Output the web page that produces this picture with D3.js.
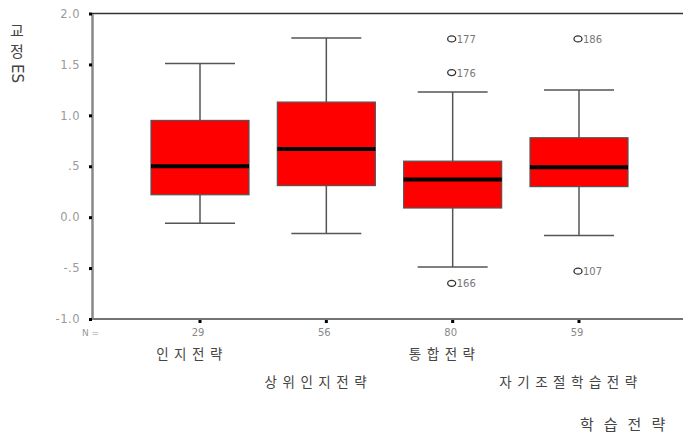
<!DOCTYPE html>
<html>
<head>
<meta charset="utf-8">
<script src="https://cdn.jsdelivr.net/npm/d3@7"></script>
<style>
  body { margin: 0; background: #fff; }
  svg { font-family: "Noto Sans CJK KR", "DejaVu Sans", sans-serif; }
</style>
</head>
<body>
<svg id="box" width="683" height="439"></svg>
<script>
// data
const groups = ["인지전략", "상위인지전략", "통합전략", "자기조절학습전략"];
const counts = [29, 56, 80, 59];
const whiskerLow = [-0.06, -0.16, -0.49, -0.18];
const q1 = [0.22, 0.31, 0.09, 0.30];
const medians = [0.50, 0.67, 0.37, 0.49];
const q3 = [0.95, 1.13, 0.55, 0.78];
const whiskerHigh = [1.51, 1.76, 1.23, 1.25];
const outliers = [
    { group: "통합전략", value: 1.75, label: "177" },
    { group: "통합전략", value: 1.42, label: "176" },
    { group: "통합전략", value: -0.65, label: "166" },
    { group: "자기조절학습전략", value: 1.75, label: "186" },
    { group: "자기조절학습전략", value: -0.53, label: "107" },
];
const yTicks = [2.0, 1.5, 1.0, 0.5, 0.0, -0.5, -1.0];
const yTickLabels = ["2.0", "1.5", "1.0", ".5", "0.0", "-.5", "-1.0"];

let svg = d3.select("svg#box");
const axisLeftX = 92;
const plotRight = 683;
const boxWidth = 98;
const capWidth = 70;

let y = d3.scaleLinear().domain([-1, 2]).range([319, 13.5]);
let x = d3.scalePoint().domain(groups).range([200, 579]);

let boxes = groups.map((g, i) => ({
    group: g, n: counts[i], lo: whiskerLow[i], q1: q1[i],
    med: medians[i], q3: q3[i], hi: whiskerHigh[i],
}));

// frame lines
svg.append("line")
    .attr("x1", axisLeftX).attr("x2", plotRight)
    .attr("y1", y(2)).attr("y2", y(2))
    .attr("stroke", "#333").attr("stroke-width", 1.5);
svg.append("line")
    .attr("x1", axisLeftX).attr("x2", plotRight)
    .attr("y1", y(-1)).attr("y2", y(-1))
    .attr("stroke", "#444").attr("stroke-width", 1.5);

// y axis
let yAxis = d3.axisLeft(y)
    .tickValues(yTicks)
    .tickSize(0)
    .tickPadding(12)
    .tickFormat((d, i) => yTickLabels[i]);
let yg = svg.append("g")
    .attr("transform", `translate(${axisLeftX},0)`)
    .call(yAxis);
yg.select(".domain").attr("stroke", "#888").attr("stroke-width", 2.5);
yg.selectAll("text")
    .attr("fill", "#999")
    .style("font-family", "'DejaVu Sans', sans-serif")
    .style("font-size", "11.5px")
    .style("letter-spacing", "0.5px");
yg.selectAll(".tick")
    .append("rect")
    .attr("x", -3).attr("y", -1.5)
    .attr("width", 3).attr("height", 3)
    .attr("fill", "#000");

// y title, written vertically
let yTitle = svg.append("g").attr("fill", "#444");
yTitle.append("text").attr("x", 17).attr("y", 36)
    .attr("text-anchor", "middle").style("font-size", "15px").text("교");
yTitle.append("text").attr("x", 17).attr("y", 57)
    .attr("text-anchor", "middle").style("font-size", "15px").text("정");
yTitle.append("text")
    .attr("transform", "translate(12,64) rotate(90)")
    .style("font-family", "'DejaVu Sans', sans-serif")
    .style("font-size", "15px").text("ES");

// x ticks and labels
let xg = svg.append("g");
xg.selectAll("rect.tick")
    .data(boxes)
    .join("rect")
    .attr("class", "tick")
    .attr("x", (d) => x(d.group) - 1.5)
    .attr("y", y(-1) + 1)
    .attr("width", 3).attr("height", 3)
    .attr("fill", "#000");
xg.append("text")
    .attr("x", 82).attr("y", 336)
    .attr("fill", "#999")
    .style("font-family", "'DejaVu Sans', sans-serif")
    .style("font-size", "9px")
    .text("N =");
xg.selectAll("text.n")
    .data(boxes)
    .join("text")
    .attr("class", "n")
    .attr("x", (d) => x(d.group) - 2)
    .attr("y", 336)
    .attr("text-anchor", "middle")
    .attr("fill", "#888")
    .style("font-family", "'DejaVu Sans', sans-serif")
    .style("font-size", "10px")
    .text((d) => d.n);
xg.selectAll("text.cat")
    .data(boxes)
    .join("text")
    .attr("class", "cat")
    .attr("x", (d) => x(d.group) - 8)
    .attr("y", (d, i) => (i % 2 === 0 ? 359 : 387))
    .attr("text-anchor", "middle")
    .attr("fill", "#444")
    .style("font-size", "13.5px")
    .style("letter-spacing", "5.5px")
    .text((d) => d.group);
svg.append("text")
    .attr("x", 580).attr("y", 430)
    .attr("fill", "#444")
    .style("font-size", "15px")
    .style("letter-spacing", "10px")
    .text("학습전략");

// boxes
let bg = svg.append("g");
let b = bg.selectAll("g.box")
    .data(boxes)
    .join("g")
    .attr("class", "box")
    .attr("transform", (d) => `translate(${x(d.group)},0)`);
b.append("line")
    .attr("y1", (d) => y(d.hi)).attr("y2", (d) => y(d.q3))
    .attr("stroke", "#555").attr("stroke-width", 1.5);
b.append("line")
    .attr("y1", (d) => y(d.q1)).attr("y2", (d) => y(d.lo))
    .attr("stroke", "#555").attr("stroke-width", 1.5);
b.append("line")
    .attr("x1", -capWidth / 2).attr("x2", capWidth / 2)
    .attr("y1", (d) => y(d.hi)).attr("y2", (d) => y(d.hi))
    .attr("stroke", "#555").attr("stroke-width", 1.5);
b.append("line")
    .attr("x1", -capWidth / 2).attr("x2", capWidth / 2)
    .attr("y1", (d) => y(d.lo)).attr("y2", (d) => y(d.lo))
    .attr("stroke", "#555").attr("stroke-width", 1.5);
b.append("rect")
    .attr("x", -boxWidth / 2).attr("width", boxWidth)
    .attr("y", (d) => y(d.q3))
    .attr("height", (d) => y(d.q1) - y(d.q3))
    .attr("fill", "#ff0000")
    .attr("stroke", "#555").attr("stroke-width", 1.2);
b.append("line")
    .attr("x1", -boxWidth / 2).attr("x2", boxWidth / 2)
    .attr("y1", (d) => y(d.med)).attr("y2", (d) => y(d.med))
    .attr("stroke", "#000").attr("stroke-width", 4);

// outliers
let og = svg.append("g");
og.selectAll("ellipse")
    .data(outliers)
    .join("ellipse")
    .attr("cx", (d) => x(d.group) - 1)
    .attr("cy", (d) => y(d.value))
    .attr("rx", 4).attr("ry", 3)
    .attr("fill", "none")
    .attr("stroke", "#333").attr("stroke-width", 1.3);
og.selectAll("text")
    .data(outliers)
    .join("text")
    .attr("x", (d) => x(d.group) + 4)
    .attr("y", (d) => y(d.value) + 4)
    .attr("fill", "#777")
    .style("font-family", "'DejaVu Sans', sans-serif")
    .style("font-size", "10px")
    .text((d) => d.label);
</script>
</body>
</html>
